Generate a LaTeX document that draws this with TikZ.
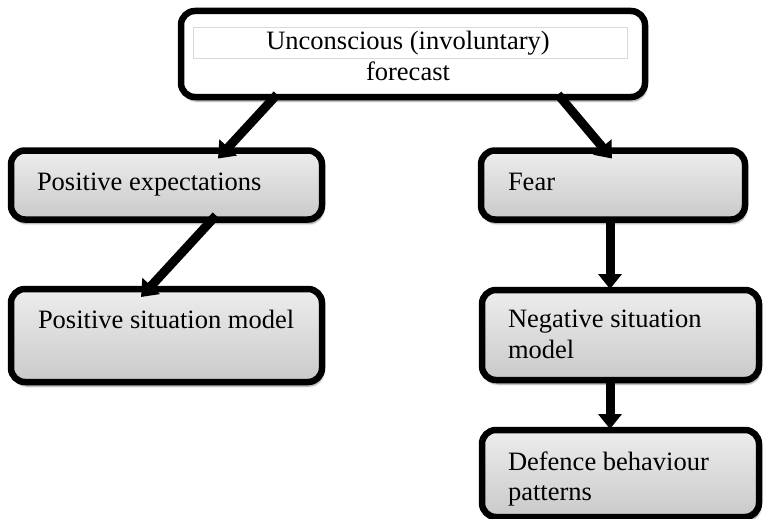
\documentclass[tikz,border=0pt]{standalone}
\usepackage{fontspec}
\setmainfont{Liberation Serif}
\usetikzlibrary{arrows.meta,shadows.blur}
\tikzset{
  boxshape/.style={draw=black, line width=6.5pt, rounded corners=14pt, inner sep=0pt, outer sep=0pt,
    blur shadow={shadow xshift=1.5pt, shadow yshift=-4pt, shadow blur steps=6, shadow opacity=45}},
  graybox/.style={boxshape, top color=gray!14, bottom color=gray!42},
  whitebox/.style={boxshape, fill=white},
  txt/.style={inner sep=0pt, outer sep=0pt, font=\fontsize{26.5}{31}\selectfont},
  arr/.style={line width=9pt, -{Triangle[width=23pt,length=15pt]}},
}
\begin{document}
\begin{tikzpicture}[x=1pt,y=-1pt]
\useasboundingbox (0,0) rectangle (763,519);
% boxes
\node[whitebox, minimum width=464pt, minimum height=86pt] (top) at (413,54) {};
\node[graybox, minimum width=311pt, minimum height=69pt] (pe) at (166.5,185) {};
\node[graybox, minimum width=264pt, minimum height=69pt] (fear) at (613,185) {};
\node[graybox, minimum width=311pt, minimum height=93pt] (psm) at (166.5,335.5) {};
\node[graybox, minimum width=277pt, minimum height=90pt] (nsm) at (620.5,335) {};
\node[graybox, minimum width=277pt, minimum height=87pt] (dbp) at (620.5,473.5) {};
% inner frame in top box
\node[draw=gray!30, line width=0.8pt, minimum width=434pt, minimum height=31pt, inner sep=0pt] (frame) at (410,42.5) {};
% texts
\node[txt, anchor=base] (t1) at (408,50) {Unconscious (involuntary)};
\node[txt, anchor=base] (t2) at (408,81) {forecast};
\node[txt, anchor=base west] (tpe) at (37,190) {Positive expectations};
\node[txt, anchor=base west] (tfear) at (508,190) {Fear};
\node[txt, anchor=base west] (tpsm) at (38,328) {Positive situation model};
\node[txt, anchor=base west] (tnsm1) at (508,327) {Negative situation};
\node[txt, anchor=base west] (tnsm2) at (508,358) {model};
\node[txt, anchor=base west] (tdbp1) at (508,470) {Defence behaviour};
\node[txt, anchor=base west] (tdbp2) at (508,500) {patterns};
% arrows
\draw[arr] ([xshift=96pt,yshift=2.5pt]top.south west) -- ([xshift=207pt,yshift=-8pt]pe.north west);
\draw[arr] ([xshift=377pt,yshift=2.5pt]top.south west) -- ([xshift=131pt,yshift=-8pt]fear.north west);
\draw[arr] ([xshift=205pt,yshift=4pt]pe.south west) -- ([xshift=130pt,yshift=-8pt]psm.north west);
\draw[arr] ([xshift=129pt]fear.south west) -- ([xshift=128pt,yshift=1pt]nsm.north west);
\draw[arr] ([xshift=128pt]nsm.south west) -- ([xshift=128pt,yshift=1pt]dbp.north west);
\end{tikzpicture}
\end{document}
